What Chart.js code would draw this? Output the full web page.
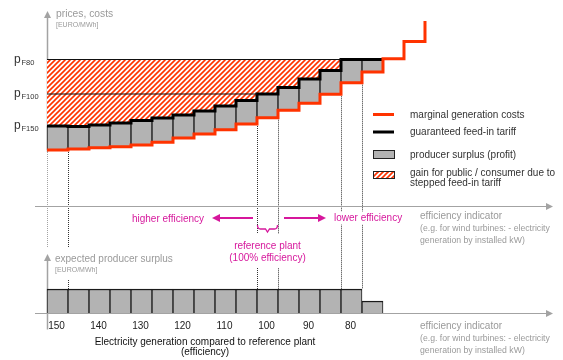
<!DOCTYPE html>
<html>
<head>
<meta charset="utf-8">
<script src="https://cdn.jsdelivr.net/npm/chart.js@4.4.0/dist/chart.umd.min.js"></script>
<style>
  html, body { margin: 0; padding: 0; background: #fff; }
  #wrap { position: relative; width: 563px; height: 360px; }
</style>
</head>
<body>
<div id="wrap"><canvas id="feedin" width="563" height="360"></canvas></div>
<script>
// efficiency (centre of each plant class, % of reference plant)
const barEfficiency = [150, 145, 140, 135, 130, 125, 120, 115, 110, 105, 100, 95, 90, 85, 80, 75];
const costOnlyEfficiency = [70, 65];
// marginal generation costs per class (EURO/MWh, arbitrary units)
const marginalCost = [56, 57, 58.3, 59.3, 61, 63.7, 68, 72, 76.3, 82, 88.3, 95.7, 102.7, 111.7, 123.3, 134, 147.3, 164.5];
const marginalCostCap = 185;
// guaranteed (stepped) feed-in tariff per class
const feedInTariff = [80, 79.5, 81, 83, 85.5, 88, 91, 95, 100, 105.5, 112, 118.5, 127, 135.5, 146.5, 146.5];
// expected producer surplus per class
const producerSurplus = [24, 24, 24, 24, 24, 24, 24, 24, 24, 24, 24, 24, 24, 24, 24, 12];
// tick labels under the lower axis
const tickEfficiency = [150, 140, 130, 120, 110, 100, 90, 80];
// tariff levels marked on the price axis
const tariffLevels = [146.5, 112, 80];
const tariffLevelNames = ['F80', 'F100', 'F150'];
// dotted guide lines at class borders
const guideEfficiency = [147.5, 102.5, 97.5, 82.5, 77.5];

const RED = '#ff3300';
const GREY_BAR = '#b3b3b3';
const AXIS = '#a3a3a3';
const PINK = '#d6179c';
const FONT = '"Liberation Sans", Arial, sans-serif';
const HALF = 2.5; // half class width in efficiency units

function makeHatch() {
    const c = document.createElement('canvas');
    c.width = 5; c.height = 5;
    const g = c.getContext('2d');
    g.fillStyle = '#fff';
    g.fillRect(0, 0, 5, 5);
    g.strokeStyle = RED;
    g.lineWidth = 1.6;
    g.beginPath();
    g.moveTo(-1, 6); g.lineTo(6, -1);
    g.moveTo(-1, 1); g.lineTo(1, -1);
    g.moveTo(4, 6); g.lineTo(6, 4);
    g.stroke();
    return g.createPattern(c, 'repeat');
}
const hatch = makeHatch();

// stepped series: value of each class holds from its left border
const allEfficiency = barEfficiency.concat(costOnlyEfficiency);
const costPoints = allEfficiency.map((e, i) => ({ x: e + HALF, y: marginalCost[i] }));
costPoints.push({ x: allEfficiency[allEfficiency.length - 1] - HALF, y: marginalCostCap });

const tariffPoints = barEfficiency.map((e, i) => ({ x: e + HALF, y: feedInTariff[i] }));
tariffPoints.push({ x: barEfficiency[barEfficiency.length - 1] - HALF, y: feedInTariff[feedInTariff.length - 1] });

const levelLines = tariffLevels.map(level => {
    const idx = feedInTariff.findIndex(t => t >= level - 0.01);
    return [{ x: barEfficiency[0] + HALF, y: level }, { x: barEfficiency[idx] + HALF, y: level }];
}).filter(l => l[0].x !== l[1].x);

function arrowHead(ctx, x, y, dir, len, half) {
    ctx.beginPath();
    if (dir === 'up') { ctx.moveTo(x, y); ctx.lineTo(x - half, y + len); ctx.lineTo(x + half, y + len); }
    if (dir === 'right') { ctx.moveTo(x, y); ctx.lineTo(x - len, y - half); ctx.lineTo(x - len, y + half); }
    if (dir === 'left') { ctx.moveTo(x, y); ctx.lineTo(x + len, y - half); ctx.lineTo(x + len, y + half); }
    ctx.closePath();
    ctx.fill();
}

function text(ctx, str, x, y, size, color, align, bg) {
    ctx.font = size + 'px ' + FONT;
    ctx.textAlign = align || 'left';
    ctx.textBaseline = 'middle';
    if (bg) {
        const w = ctx.measureText(str).width;
        const left = align === 'center' ? x - w / 2 : align === 'right' ? x - w : x;
        ctx.fillStyle = '#fff';
        ctx.fillRect(left - 2, y - size * 0.65, w + 4, size * 1.3);
    }
    ctx.fillStyle = color;
    ctx.fillText(str, x, y);
}

const sketch = {
    id: 'sketch',
    beforeDatasetsDraw(chart) {
        const { ctx, scales: { x, y, y2 } } = chart;
        const ax = Math.round(x.getPixelForValue(barEfficiency[0] + HALF)) + 0.5;
        const topAxis = Math.round(y.getPixelForValue(0)) + 0.5;
        const botAxis = Math.round(y2.getPixelForValue(0)) + 0.5;
        ctx.save();

        // dotted class borders
        ctx.strokeStyle = '#333';
        ctx.lineWidth = 1;
        ctx.setLineDash([1, 1]);
        guideEfficiency.forEach(e => {
            const px = Math.round(x.getPixelForValue(e)) + 0.5;
            const i = barEfficiency.findIndex(b => Math.abs(b - HALF - e) < 0.01);
            const y0 = y.getPixelForValue(marginalCost[i]) + 2;
            const y1 = y2.getPixelForValue(Math.max(producerSurplus[i], producerSurplus[i + 1]));
            ctx.beginPath(); ctx.moveTo(px, y0); ctx.lineTo(px, y1); ctx.stroke();
        });

        // price axis
        ctx.strokeStyle = AXIS;
        ctx.beginPath(); ctx.moveTo(ax, y.getPixelForValue(marginalCost[0]) + 2); ctx.lineTo(ax, botAxis - 66); ctx.stroke();
        ctx.setLineDash([]);
        ctx.lineWidth = 1.5;
        ctx.beginPath(); ctx.moveTo(ax, 17); ctx.lineTo(ax, y.getPixelForValue(marginalCost[0]) + 2); ctx.stroke();
        ctx.fillStyle = AXIS;
        arrowHead(ctx, ax, 11, 'up', 7, 3.5);

        // surplus axis
        ctx.beginPath(); ctx.moveTo(ax, 260); ctx.lineTo(ax, botAxis + 16); ctx.stroke();
        arrowHead(ctx, ax, 254, 'up', 7, 3.5);

        // efficiency axes
        ctx.lineWidth = 1;
        [topAxis, botAxis].forEach(py => {
            ctx.beginPath(); ctx.moveTo(35, py); ctx.lineTo(547, py); ctx.stroke();
            arrowHead(ctx, 553, py, 'right', 7, 3.5);
        });
        ctx.restore();
    },
    afterDatasetsDraw(chart) {
        const { ctx, scales: { x, y, y2 } } = chart;
        const ax = x.getPixelForValue(barEfficiency[0] + HALF);
        ctx.save();

        // axis titles
        text(ctx, 'prices, costs', ax + 9, 14, 10.3, '#9a9a9a');
        text(ctx, '[EURO/MWh]', ax + 9, 25, 7, '#9a9a9a');
        ctx.fillStyle = '#fff';
        ctx.fillRect(ax + 6, 247, 124, 32);
        text(ctx, 'expected producer surplus', ax + 8, 259, 10, '#9a9a9a');
        text(ctx, '[EURO/MWh]', ax + 8, 270, 7, '#9a9a9a');

        // tariff level labels p_F..
        tariffLevels.forEach((lv, i) => {
            const py = y.getPixelForValue(lv);
            ctx.fillStyle = '#333';
            ctx.textAlign = 'left';
            ctx.textBaseline = 'alphabetic';
            ctx.font = '12px ' + FONT;
            ctx.fillText('p', 14, py + 3);
            ctx.font = '7.5px ' + FONT;
            ctx.fillText(tariffLevelNames[i], 21.5, py + 5);
        });

        // efficiency direction
        text(ctx, 'higher efficiency', 204, 219, 10, PINK, 'right', true);
        text(ctx, 'lower efficiency', 334, 218, 10, PINK, 'left', true);
        ctx.strokeStyle = PINK;
        ctx.fillStyle = PINK;
        ctx.lineWidth = 2;
        ctx.beginPath(); ctx.moveTo(253, 218); ctx.lineTo(218, 218); ctx.stroke();
        arrowHead(ctx, 212, 218, 'left', 8, 4);
        ctx.beginPath(); ctx.moveTo(284, 218); ctx.lineTo(320, 218); ctx.stroke();
        arrowHead(ctx, 326, 218, 'right', 8, 4);

        // brace under the reference plant
        const bl = x.getPixelForValue(100 + HALF) + 0.5;
        const br = x.getPixelForValue(100 - HALF) - 0.5;
        const bm = (bl + br) / 2;
        ctx.lineWidth = 1.3;
        ctx.beginPath();
        ctx.moveTo(bl, 225); ctx.quadraticCurveTo(bl, 229, bl + 3, 229);
        ctx.lineTo(bm - 2, 229); ctx.lineTo(bm, 232); ctx.lineTo(bm + 2, 229);
        ctx.lineTo(br - 3, 229); ctx.quadraticCurveTo(br, 229, br, 225);
        ctx.stroke();
        ctx.fillStyle = '#fff';
        ctx.fillRect(bl - 12, 234, br - bl + 24, 34);
        text(ctx, 'reference plant', bm, 246.5, 10, PINK, 'center');
        text(ctx, '(100% efficiency)', bm, 258, 10, PINK, 'center');

        // efficiency axis notes
        [216, 326].forEach(py => {
            text(ctx, 'efficiency indicator', 420, py, 10, '#9a9a9a');
            text(ctx, '(e.g. for wind turbines: - electricity', 420, py + 13, 8.7, '#9a9a9a');
            text(ctx, 'generation by installed kW)', 420, py + 25, 8.7, '#9a9a9a');
        });

        // tick labels
        tickEfficiency.forEach(t => {
            text(ctx, String(t), x.getPixelForValue(t) - 1, y2.getPixelForValue(0) + 13, 10, '#222', 'center');
        });
        text(ctx, 'Electricity generation compared to reference plant', 205, 342, 10, '#111', 'center');
        text(ctx, '(efficiency)', 205, 352, 10, '#111', 'center');

        // legend
        const lx = 373;
        ctx.lineWidth = 3;
        ctx.strokeStyle = RED;
        ctx.beginPath(); ctx.moveTo(lx, 114.5); ctx.lineTo(lx + 21, 114.5); ctx.stroke();
        ctx.strokeStyle = '#000';
        ctx.beginPath(); ctx.moveTo(lx, 132); ctx.lineTo(lx + 21, 132); ctx.stroke();
        ctx.lineWidth = 1;
        ctx.strokeStyle = '#222';
        ctx.fillStyle = GREY_BAR;
        ctx.fillRect(lx + 0.5, 150.5, 21, 8);
        ctx.strokeRect(lx + 0.5, 150.5, 21, 8);
        ctx.fillStyle = hatch;
        ctx.fillRect(lx + 0.5, 171.5, 21, 7);
        ctx.strokeRect(lx + 0.5, 171.5, 21, 7);
        text(ctx, 'marginal generation costs', 410, 115, 10, '#333');
        text(ctx, 'guaranteed feed-in tariff', 410, 132.5, 10, '#333');
        text(ctx, 'producer surplus (profit)', 410, 155, 10, '#333');
        text(ctx, 'gain for public / consumer due to', 410, 173.5, 10, '#333');
        text(ctx, 'stepped feed-in tariff', 410, 183.5, 10, '#333');
        ctx.restore();
    }
};

const levelDatasets = levelLines.map(pts => ({
    type: 'line',
    data: pts,
    borderColor: '#111',
    borderWidth: 1,
    pointRadius: 0,
    order: 0
}));

new Chart(document.getElementById('feedin'), {
    type: 'line',
    data: {
        datasets: [
            {
                type: 'bar',
                label: 'producer surplus (profit)',
                data: barEfficiency.map((e, i) => ({ x: e, y: [marginalCost[i], feedInTariff[i]] })),
                backgroundColor: GREY_BAR,
                borderColor: '#1a1a1a',
                borderWidth: { top: 0, left: 1, right: 1, bottom: 0 },
                borderSkipped: false,
                barPercentage: 1,
                categoryPercentage: 1,
                grouped: false,
                yAxisID: 'y',
                order: 5
            },
            {
                type: 'bar',
                label: 'expected producer surplus',
                data: barEfficiency.map((e, i) => ({ x: e, y: producerSurplus[i] })),
                backgroundColor: GREY_BAR,
                borderColor: '#1a1a1a',
                borderWidth: { top: 1.5, left: 1, right: 1, bottom: 0 },
                borderSkipped: false,
                barPercentage: 1,
                categoryPercentage: 1,
                grouped: false,
                yAxisID: 'y2',
                order: 5
            },
            {
                label: 'guaranteed feed-in tariff',
                data: tariffPoints,
                stepped: true,
                borderColor: '#000',
                borderWidth: 3,
                pointRadius: 0,
                fill: { value: tariffLevels[0] },
                backgroundColor: hatch,
                yAxisID: 'y',
                order: 2
            },
            ...levelDatasets,
            {
                label: 'marginal generation costs',
                data: costPoints,
                stepped: true,
                borderColor: RED,
                borderWidth: 3,
                pointRadius: 0,
                fill: false,
                yAxisID: 'y',
                order: 0
            }
        ]
    },
    options: {
        responsive: false,
        animation: false,
        events: [],
        layout: { padding: 0 },
        scales: {
            x: { type: 'linear', reverse: true, offset: false, min: 29.64, max: 163.69, display: false, grid: { offset: false } },
            y: { type: 'linear', min: -154, max: 206, display: false },
            y2: { type: 'linear', min: -47, max: 313, display: false }
        },
        plugins: {
            legend: { display: false },
            tooltip: { enabled: false }
        }
    },
    plugins: [sketch]
});
</script>
</body>
</html>
